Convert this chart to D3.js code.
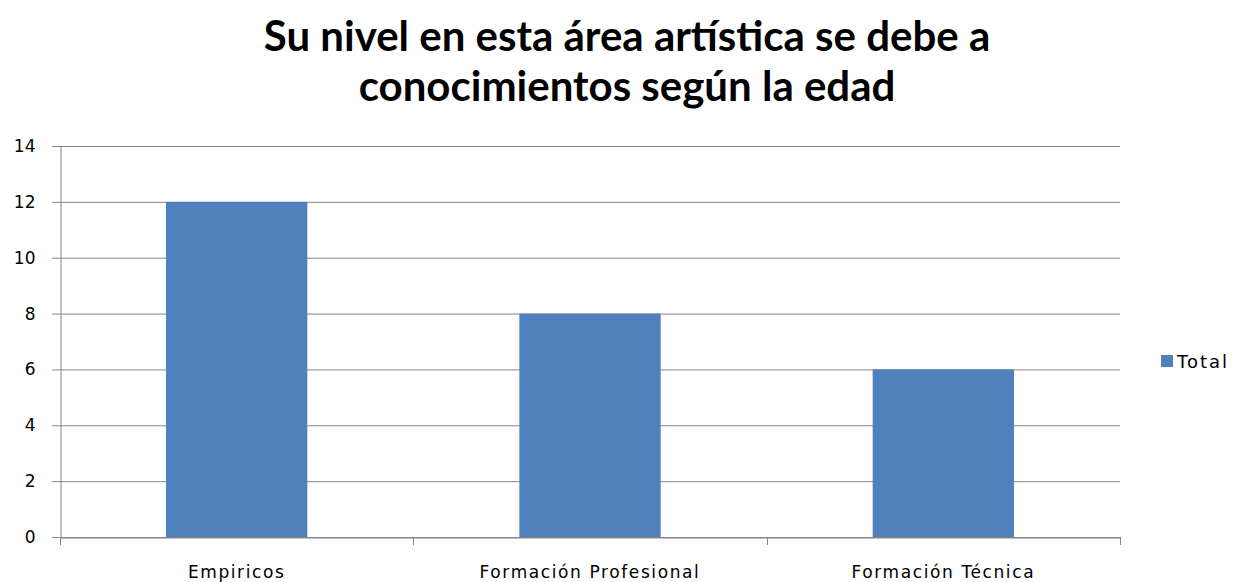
<!DOCTYPE html>
<html><head><meta charset="utf-8">
<script src="https://cdn.jsdelivr.net/npm/d3@7"></script>
<style>body{margin:0;background:#fff}</style>
</head><body>
<svg id="c" width="1240" height="582"></svg>
<script>
const categories = ["Empiricos", "Formación Profesional", "Formación Técnica"];
const totals = [12, 8, 6];
const yTicks = [0, 2, 4, 6, 8, 10, 12, 14];
const seriesName = "Total";
const titleLines = ["Su nivel en esta área artística se debe a", "conocimientos según la edad"];

const svg = d3.select("#c");
const L = 60, R = 1120, T = 146, B = 537;
const x = d3.scaleBand().domain(categories).range([L, R]).paddingInner(0.6).paddingOuter(0.3);
const xb = d3.scaleBand().domain(categories).range([L, R]);
const y = d3.scaleLinear().domain([0, 14]).range([B, T]);
const grid = "#868686";

svg.append("g").selectAll("text").data(titleLines).join("text")
  .attr("x", 627).attr("y", (d, i) => 51 + i * 50)
  .attr("text-anchor", "middle")
  .attr("font-family", "Lato, 'Open Sans', sans-serif").attr("font-weight", "bold")
  .attr("font-size", 42).attr("fill", "#000").text(d => d);

// gridlines
svg.append("g").selectAll("line").data(yTicks).join("line")
  .attr("x1", L - 8).attr("x2", R).attr("y1", d => y(d) + 0.5).attr("y2", d => y(d) + 0.5)
  .attr("stroke", grid).attr("stroke-width", 1);

// y axis
const ya = svg.append("g").attr("transform", `translate(${L + 0.5},0)`)
  .call(d3.axisLeft(y).tickValues(yTicks).tickSize(0).tickPadding(25));
ya.select(".domain").attr("stroke", grid);
ya.selectAll("text").attr("font-family", "'DejaVu Sans', sans-serif").attr("font-size", 17).attr("fill", "#000");

// bars
svg.append("g").selectAll("rect").data(totals).join("rect")
  .attr("x", (d, i) => x(categories[i])).attr("width", x.bandwidth())
  .attr("y", d => y(d)).attr("height", d => B - y(d))
  .attr("fill", "#4f81bd");

// x axis
const xa = svg.append("g").attr("transform", `translate(0,${B + 0.5})`)
  .call(d3.axisBottom(xb).tickSize(0).tickPadding(28));
xa.select(".domain").attr("stroke", grid);
xa.selectAll("text").attr("font-family", "'DejaVu Sans', sans-serif").attr("font-size", 17)
  .attr("letter-spacing", 1.6).attr("fill", "#000");
const bounds = [L, ...categories.map(c => xb(c) + xb.bandwidth())];
svg.append("g").selectAll("line").data(bounds).join("line")
  .attr("x1", d => Math.round(d) + 0.5).attr("x2", d => Math.round(d) + 0.5)
  .attr("y1", B).attr("y2", B + 8).attr("stroke", grid);

// legend
const lg = svg.append("g").attr("transform", "translate(1161,355)");
lg.append("rect").attr("width", 12).attr("height", 12).attr("fill", "#4f81bd");
lg.append("text").attr("x", 16).attr("y", 13).attr("font-family", "'DejaVu Sans', sans-serif")
  .attr("font-size", 18).attr("letter-spacing", 2).attr("fill", "#000").text(seriesName);
</script>
</body></html>
